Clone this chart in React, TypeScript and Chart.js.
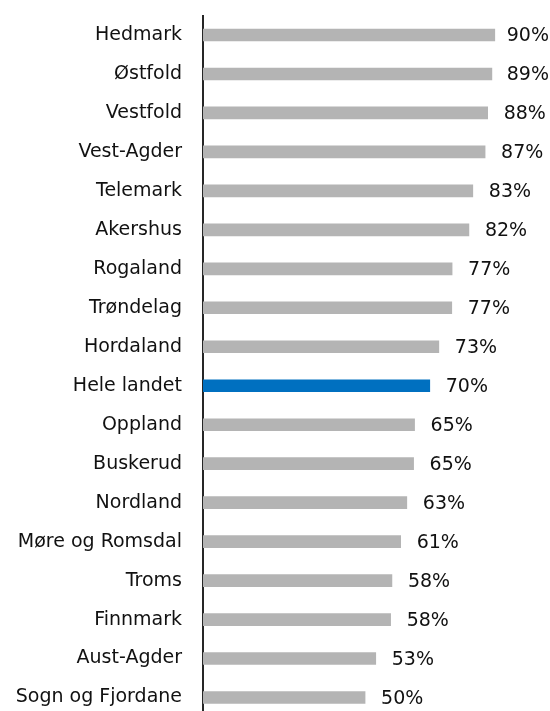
import React, { useEffect, useRef } from "react";
import { Chart, registerables } from "chart.js";

Chart.register(...registerables);

const categories = [
  "Hedmark", "Østfold", "Vestfold", "Vest-Agder", "Telemark", "Akershus",
  "Rogaland", "Trøndelag", "Hordaland", "Hele landet", "Oppland", "Buskerud",
  "Nordland", "Møre og Romsdal", "Troms", "Finnmark", "Aust-Agder", "Sogn og Fjordane",
];
const values = [
  90.2, 89.3, 88.0, 87.2, 83.4, 82.2, 77.0, 76.9, 72.9, 70.1, 65.4, 65.1,
  63.0, 61.1, 58.4, 58.0, 53.4, 50.1,
];
const valueLabels = [
  "90%", "89%", "88%", "87%", "83%", "82%", "77%", "77%", "73%", "70%", "65%", "65%",
  "63%", "61%", "58%", "58%", "53%", "50%",
];
const highlight = "Hele landet";

const FONT = "'DejaVu Sans', sans-serif";
const GRAY = "#B4B4B4";
const BLUE = "#0070C0";
const TEXT = "#111111";

const labelPlugin = {
  id: "valueLabels",
  afterDatasetsDraw(chart: any) {
    const ctx = chart.ctx;
    const meta = chart.getDatasetMeta(0);
    ctx.save();
    ctx.font = `19px ${FONT}`;
    ctx.fillStyle = TEXT;
    ctx.textBaseline = "middle";
    ctx.textAlign = "left";
    meta.data.forEach((bar: any, i: number) => {
      const txt = valueLabels[i];
      const w = ctx.measureText(txt).width;
      const x = Math.min(bar.x + 16, chart.width - w - 1);
      ctx.fillText(txt, x, bar.y + 1.5);
    });
    ctx.restore();
  },
};

export default function App() {
  const ref = useRef<HTMLCanvasElement | null>(null);
  useEffect(() => {
    document.body.style.margin = "0";
    document.documentElement.style.overflow = "hidden";
    const chart = new Chart(ref.current!, {
      type: "bar",
      data: {
        labels: categories,
        datasets: [
          {
            data: values,
            backgroundColor: categories.map((c) => (c === highlight ? BLUE : GRAY)),
            barThickness: 12,
          },
        ],
      },
      options: {
        indexAxis: "y",
        animation: false,
        responsive: false,
        maintainAspectRatio: false,
        layout: { padding: { top: 15.5, right: 23.5, bottom: 0, left: 0 } },
        plugins: { legend: { display: false }, tooltip: { enabled: false } },
        scales: {
          x: { display: false, min: 0, max: 100 },
          y: {
            afterFit: (s: any) => {
              s.width = 203;
              s.paddingTop = 0;
              s.paddingBottom = 0;
            },
            grid: { display: false, drawTicks: false },
            border: { display: true, color: "#262626", width: 2 },
            ticks: {
              color: TEXT,
              padding: 21,
              font: { family: FONT, size: 19 },
            },
          },
        },
      },
      plugins: [labelPlugin],
    });
    return () => chart.destroy();
  }, []);
  return (
    <div style={{ width: 550, height: 711, overflow: "hidden", position: "relative" }}>
      <canvas ref={ref} width={550} height={717} style={{ display: "block" }} />
    </div>
  );
}
